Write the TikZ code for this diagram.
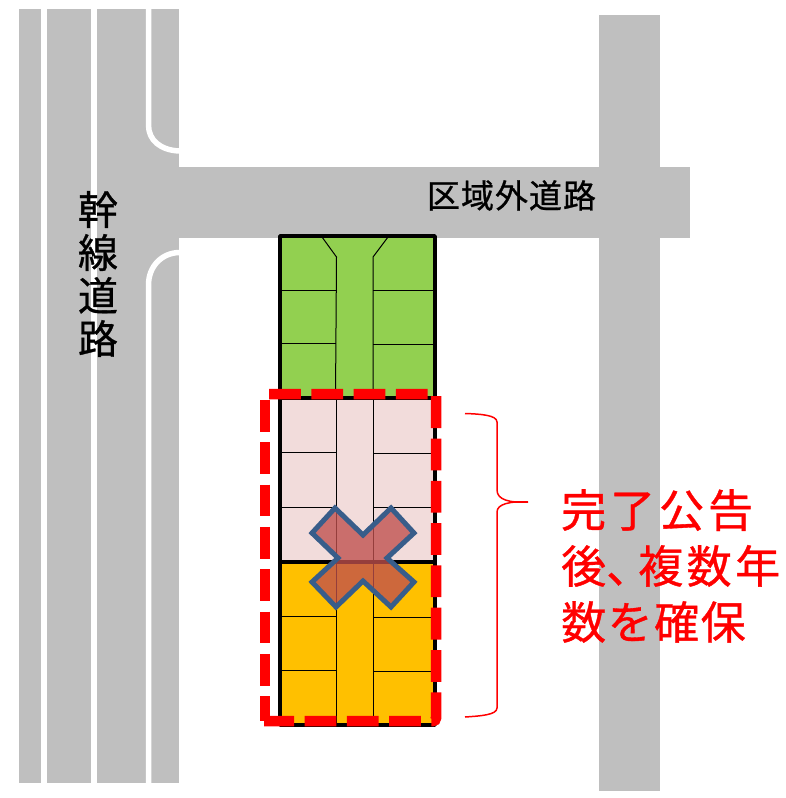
\documentclass[tikz,border=0pt]{standalone}
\usepackage{xcolor}
\usepackage{fontspec}
\newfontfamily\cjk[FakeBold=0.8]{Noto Sans CJK JP}
\definecolor{roadgray}{HTML}{BFBFBF}
\definecolor{lotgreen}{HTML}{92D050}
\definecolor{lotpink}{HTML}{F2DCDB}
\definecolor{lotorange}{HTML}{FFC000}
\definecolor{crossfill}{HTML}{C0504D}
\definecolor{crossline}{HTML}{385D8A}

\begin{document}
\begin{tikzpicture}[
    x=1pt, y=-1pt,
    road/.style={fill=roadgray, draw=none},
    roadedge/.style={draw=white, line width=5.5pt},
    lotline/.style={draw=black, line width=1pt},
    blockedge/.style={draw=black, line width=3.5pt, line join=round},
    areaedge/.style={draw=red, line width=10.5pt, dash pattern=on 31.8pt off 10.5pt},
    label/.style={font=\cjk, inner sep=0pt, align=center}
]
    \useasboundingbox (0,0) rectangle (786,798);

    % Roads
    \fill[road] (19,9) rectangle (179,783);
    \fill[road] (179,167) rectangle (690,238);
    \fill[road] (599,15) rectangle (660,791);

    % White edges of the main road
    \draw[roadedge] (44,9) -- (44,783);
    \draw[roadedge] (94,9) -- (94,783);
    \draw[roadedge] (148.5,9) -- (148.5,125) .. controls (148.5,140) and (160,150) .. (179,151);
    \draw[roadedge] (179,252.5) .. controls (162,253) and (148.5,266) .. (148.5,285) -- (148.5,783);

    % Lots
    \fill[lotgreen] (280,236) rectangle (435,398);
    \fill[lotpink] (280,398) rectangle (435,562);
    \fill[lotorange] (280,562) rectangle (435,725);

    % Inner roads
    \draw[lotline] (322,237) -- (336.5,257) -- (335.5,398);
    \draw[lotline] (388,237) -- (373,257) -- (373,398);
    \draw[lotline] (336,398) -- (336,725);
    \draw[lotline] (373,398) -- (373,725);

    % Lot lines
    \foreach \yleft/\yright in {290/290, 343/344, 452/453, 507/507, 616/617, 670/671} {
        \draw[lotline] (280,\yleft) -- (336,\yleft);
        \draw[lotline] (373,\yright) -- (435,\yright);
    }

    % Block outlines
    \draw[blockedge] (280,236) rectangle (435,398);
    \draw[blockedge] (280,398) rectangle (435,562);
    \draw[blockedge] (280,562) rectangle (435,725);

    % Cross
    \draw[draw=crossline, line width=5pt, line join=miter, fill=crossfill, fill opacity=.78]
        (335,508) -- (363,535) -- (391,508) -- (414,533) -- (387,558) -- (414,582)
        -- (391,607) -- (363,581) -- (336,607) -- (312,582) -- (338,558) -- (312,533) -- cycle;

    % Dashed area
    \draw[areaedge] (269,394) -- (436,394) [rounded corners=3pt] -- (436,721) -- (264,721);
    \draw[areaedge] (265,400) -- (265,721);

    % Brace
    \draw[draw=red, line width=1.5pt]
        (465,413.5) .. controls (480,414) and (497,415) .. (497,422) -- (497,490)
        .. controls (497,500) and (510,503) .. (528,502)
        .. controls (510,501) and (497,504) .. (497,512) -- (497,708)
        .. controls (497,715) and (480,716) .. (465,717);

    % Labels
    \node[label, font=\cjk\fontsize{33}{33}\selectfont, black] (outerroad) at (511.5,195.5) {区\kern1pt 域\kern1pt 外\kern1pt 道\kern1pt 路};
    \node[label, font=\cjk\fontsize{40}{43}\selectfont, black] (mainroad) at (98,274) {幹\\線\\道\\路};
    \node[label, font=\cjk\fontsize{45}{56}\selectfont, red, align=left, anchor=west] (notice) at (561,566)
        {完\kern4pt 了\kern4pt 公\kern4pt 告\\後、\kern-13pt 複\kern3.5pt 数\kern3.5pt 年\\数\kern1.5pt を\kern1.5pt 確\kern1.5pt 保};
\end{tikzpicture}
\end{document}
